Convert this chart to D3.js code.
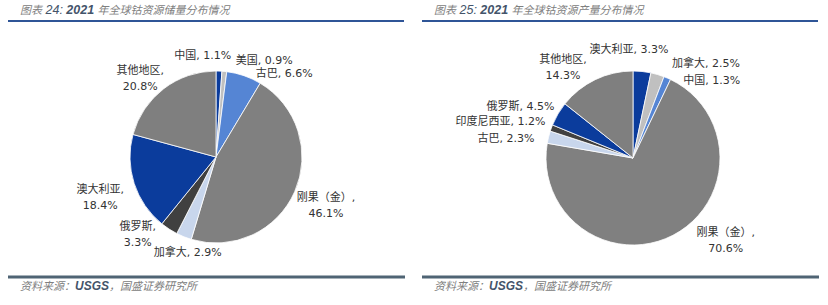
<!DOCTYPE html>
<html>
<head>
<meta charset="utf-8">
<script src="https://cdn.jsdelivr.net/npm/d3@7"></script>
<style>
html,body{margin:0;padding:0;background:#fff;}
svg{display:block;}
</style>
</head>
<body>
<svg id="chart" width="828" height="305"></svg>
<script>
// ---- data ----
const leftTitleNum = "24";
const leftTitleText = "年全球钴资源储量分布情况";
const leftCategories = ["中国", "美国", "古巴", "刚果（金）", "加拿大", "俄罗斯", "澳大利亚", "其他地区"];
const leftValues = [1.1, 0.9, 6.6, 46.1, 2.9, 3.3, 18.4, 20.8];

const rightTitleNum = "25";
const rightTitleText = "年全球钴资源产量分布情况";
const rightCategories = ["澳大利亚", "加拿大", "中国", "刚果（金）", "古巴", "印度尼西亚", "俄罗斯", "其他地区"];
const rightValues = [3.3, 2.5, 1.3, 70.6, 2.3, 1.2, 4.5, 14.3];

const sourceText = "资料来源：";
const sourceOrg = "USGS";
const sourceRest = "，国盛证券研究所";

// ---- layout / style ----
const sliceColors = ["#0b3c9c", "#c0c0c0", "#5585d4", "#808080", "#c8d6ec", "#404040", "#0b3c9c", "#7f7f7f"];
const leftWrap = [false, false, false, true, false, true, true, true];
const rightWrap = [false, false, false, true, false, false, false, true];
const leftNudge = [[-17,3],[38,7.5],[34,15],[14,6],[11,-2],[-21,-11],[-16,8],[-12,4]];
const rightNudge = [[-15,-3],[43,7],[37,20],[44,-12.6],[-24,5],[-33,0],[-21,2],[-24,5]];

const svg = d3.select("#chart");
const labelFont = "'DejaVu Sans','Noto Sans CJK SC',sans-serif";

function panel(x0, titleNum, titleText, cats, vals, wrap, nudge, cx, cy, r) {
  const g = svg.append("g");
  // title
  const t = g.append("text").attr("x", x0 + 20).attr("y", 14)
    .attr("font-style", "italic").attr("font-family", "'DejaVu Sans','Noto Sans CJK SC',sans-serif");
  t.append("tspan").attr("font-size", 11).attr("fill", "#808080").attr("font-family", "'Noto Sans CJK SC',sans-serif").text("图表");
  t.append("tspan").attr("font-size", 12.5).attr("fill", "#44546a").attr("font-family", "'Liberation Sans',sans-serif").text(" " + titleNum + ":  ");
  t.append("tspan").attr("font-size", 12.5).attr("font-weight", "bold").attr("fill", "#44546a").attr("font-family", "'Liberation Sans',sans-serif").text("2021 ");
  t.append("tspan").attr("font-size", 11).attr("fill", "#808080").attr("font-family", "'Noto Sans CJK SC',sans-serif").text(titleText);

  g.append("line").attr("x1", x0 + 8).attr("x2", x0 + 404).attr("y1", 21).attr("y2", 21)
    .attr("stroke", "#2f5597").attr("stroke-width", 2);
  g.append("line").attr("x1", x0 + 8).attr("x2", x0 + 405).attr("y1", 277).attr("y2", 277)
    .attr("stroke", "#4f6474").attr("stroke-width", 3);

  const s = g.append("text").attr("x", x0 + 20).attr("y", 290).attr("font-style", "italic");
  s.append("tspan").attr("font-size", 11).attr("fill", "#808080").attr("font-family", "'Noto Sans CJK SC',sans-serif").text(sourceText);
  s.append("tspan").attr("font-size", 12).attr("font-weight", "bold").attr("fill", "#44546a").attr("font-family", "'Liberation Sans',sans-serif").text(sourceOrg);
  s.append("tspan").attr("font-size", 11).attr("fill", "#808080").attr("font-family", "'Noto Sans CJK SC',sans-serif").text(sourceRest);

  const data = cats.map((c, i) => ({ cat: c, val: vals[i], idx: i }));
  const pie = d3.pie().value(d => d.val).sort(null);
  const arcs = pie(data);
  const arc = d3.arc().innerRadius(0).outerRadius(r);
  const color = d3.scaleOrdinal().domain(d3.range(sliceColors.length)).range(sliceColors);
  const pg = g.append("g").attr("transform", `translate(${cx},${cy})`);
  pg.selectAll("path").data(arcs).join("path")
    .attr("d", arc)
    .attr("fill", d => color(d.data.idx))
    .attr("stroke", "#fff").attr("stroke-width", 0.8);

  const rl = r * 1.22;
  arcs.forEach((d, i) => {
    const a = (d.startAngle + d.endAngle) / 2;
    const lx = Math.sin(a) * rl + nudge[i][0];
    const ly = -Math.cos(a) * rl + nudge[i][1];
    const txt = pg.append("text").attr("text-anchor", "middle")
      .attr("font-family", labelFont).attr("font-size", 11).attr("fill", "#333");
    const pct = d3.format(".1f")(d.data.val) + "%";
    if (wrap[i]) {
      txt.append("tspan").attr("x", lx).attr("y", ly - 8 + 4).text(d.data.cat + ",");
      txt.append("tspan").attr("x", lx).attr("y", ly + 8 + 4).text(pct);
    } else {
      txt.append("tspan").attr("x", lx).attr("y", ly + 4).text(d.data.cat + ", " + pct);
    }
  });
}

panel(0, leftTitleNum, leftTitleText, leftCategories, leftValues, leftWrap, leftNudge, 216, 157, 86);
panel(414, rightTitleNum, rightTitleText, rightCategories, rightValues, rightWrap, rightNudge, 633, 158, 87);
</script>
</body>
</html>
